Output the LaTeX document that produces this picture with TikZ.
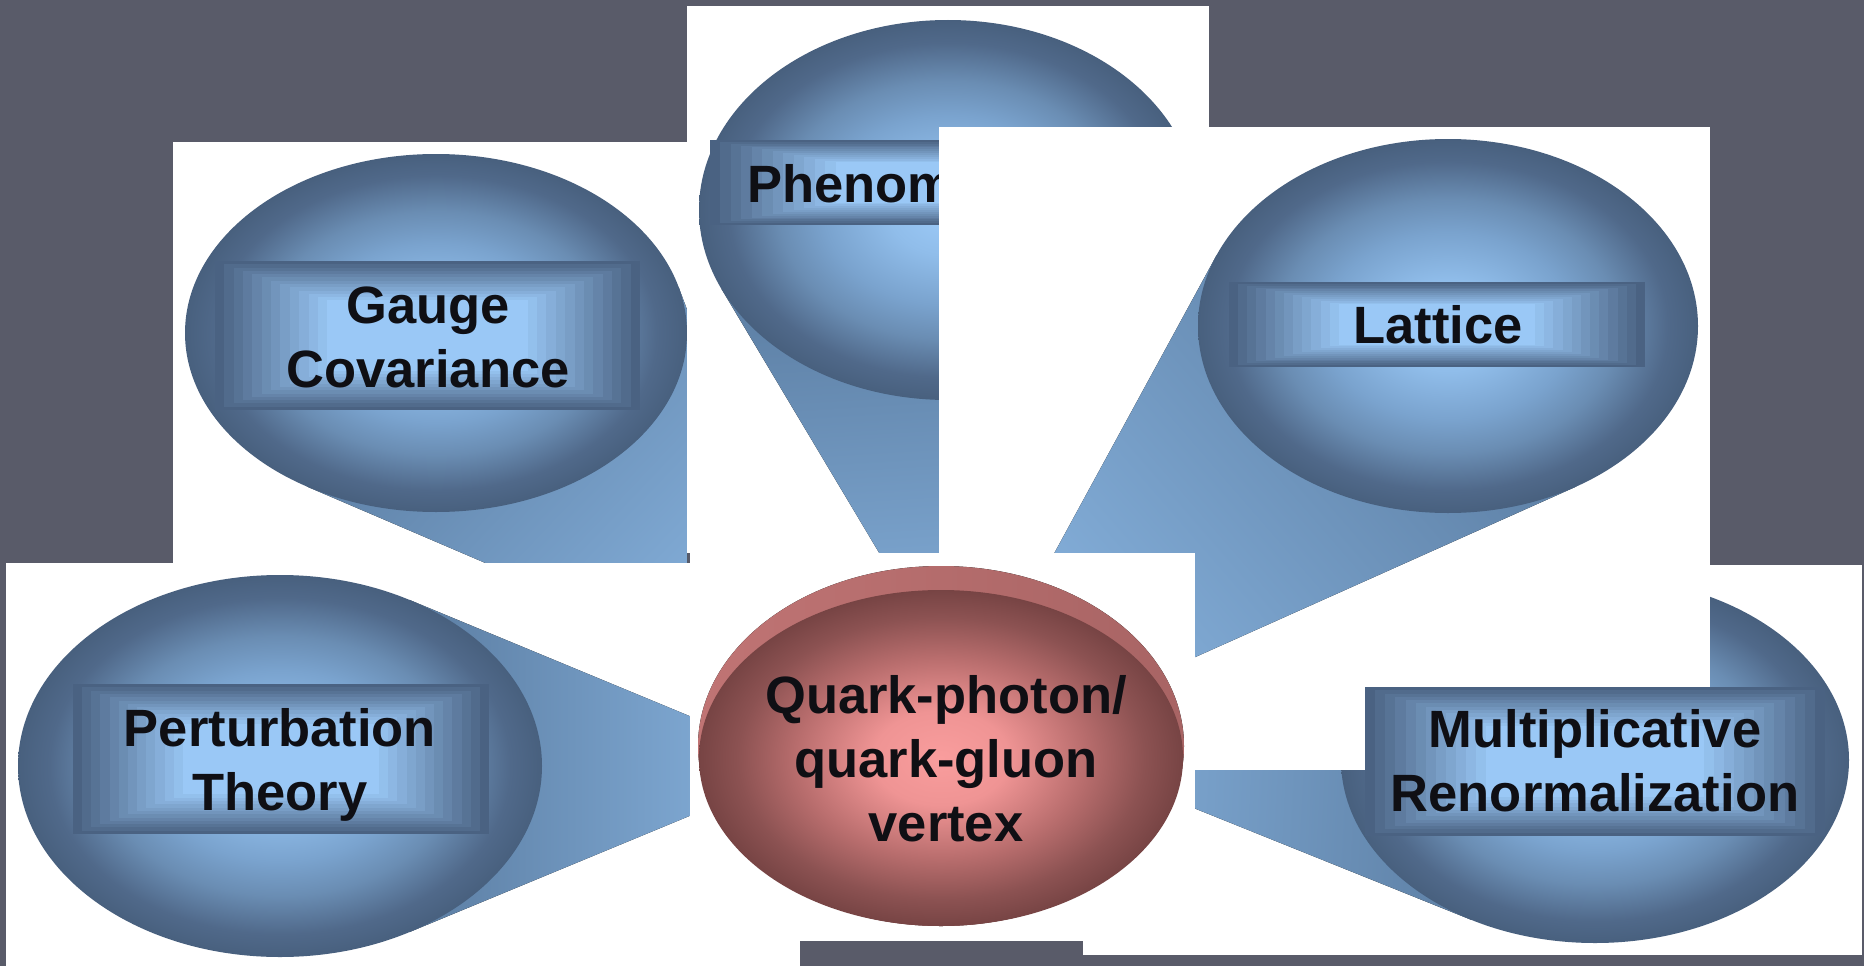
\documentclass[tikz,border=0pt]{standalone}
\usepackage{fontspec}
\setmainfont{Liberation Sans}
\usetikzlibrary{calc,shapes.geometric}

\definecolor{slidegrey}{HTML}{595B69}
\definecolor{ballhi}{HTML}{9DCBF9}
\definecolor{ballup}{HTML}{90BDEA}
\definecolor{ballmid}{HTML}{7AA3CE}
\definecolor{balllo}{HTML}{6A8DB3}
\definecolor{balldeep}{HTML}{50698A}
\definecolor{balledge}{HTML}{48607E}
\definecolor{panelhi}{HTML}{9AC8F6}
\definecolor{paneledge}{HTML}{4A6282}
\definecolor{conehi}{HTML}{8AB6E2}
\definecolor{conelo}{HTML}{5B7DA2}
\definecolor{rosehi}{HTML}{F99D9D}
\definecolor{roseup}{HTML}{EF9494}
\definecolor{rosemid}{HTML}{B86D6D}
\definecolor{roselo}{HTML}{8C5252}
\definecolor{roseedge}{HTML}{774444}
\definecolor{rimhi}{HTML}{C07474}
\definecolor{rimlo}{HTML}{A86464}
\definecolor{inkblack}{HTML}{0F0F14}

\pgfdeclareradialshading{blueball}{\pgfpoint{0bp}{0bp}}{%
  color(0bp)=(ballhi); color(6bp)=(ballup); color(12.5bp)=(ballmid);
  color(17bp)=(balllo); color(22bp)=(balldeep); color(25bp)=(balledge);
  color(50bp)=(balledge)}
\pgfdeclareradialshading{roseball}{\pgfpoint{0bp}{0bp}}{%
  color(0bp)=(rosehi); color(7bp)=(roseup); color(15bp)=(rosemid);
  color(21bp)=(roselo); color(25bp)=(roseedge); color(50bp)=(roseedge)}

% tip and the two tangent points of an ellipse seen from that tip
\newcommand{\tangentpair}[7]{%
  \pgfmathsetmacro\dxn{(#6-#2)/#4}
  \pgfmathsetmacro\dyn{(#7-#3)/#5}
  \pgfmathsetmacro\tdir{atan2(\dyn,\dxn)}
  \pgfmathsetmacro\tgap{acos(1/sqrt(\dxn*\dxn+\dyn*\dyn))}
  \pgfmathsetmacro\tangA{\tdir+\tgap}
  \pgfmathsetmacro\tangB{\tdir-\tgap}
  \coordinate (#1 tip) at (#6,#7);
  \coordinate (#1 t1) at ($(#2,#3)+(\tangA:#4 and #5)$);
  \coordinate (#1 t2) at ($(#2,#3)+(\tangB:#4 and #5)$);
}

\begin{document}
\begin{tikzpicture}[x=1pt, y=-1pt,
  sheet/.style={fill=white},
  ball/.style={ellipse, inner sep=0pt, shading=blueball},
  cone/.style={top color=conehi, bottom color=conelo, shading angle=#1},
  title/.style={font=\fontsize{52.5}{64}\selectfont\bfseries, align=center,
    inner sep=0pt, text=inkblack},
  pics/panel/.style 2 args={code={
    \foreach \i in {0,...,12} {
      \pgfmathsetmacro\mixpct{100*\i/12}
      \fill[panelhi!\mixpct!paneledge]
        ({-#1/2+0.022*#1*\i},{-#2/2+0.022*#2*\i}) rectangle
        ({#1/2-0.022*#1*\i},{#2/2-0.022*#2*\i});
    }}}]
  \useasboundingbox (0,0) rectangle (1864,966);
  \fill[slidegrey] (0,0) rectangle (1864,966);

  % gauge covariance
  \begin{scope}
    \clip (173,142) rectangle (687,563);
    \fill[sheet] (173,142) rectangle (687,563);
    \tangentpair{gauge}{436}{333}{251}{179}{838}{714}
    \fill[cone=-133.5] (gauge tip) -- (gauge t1) -- (gauge t2) -- cycle;
    \node[ball, minimum width=502pt, minimum height=358pt] (gauge) at (436,333) {};
    \pic at (427.5,335.5) {panel={425}{149}};
    \node[title] (gauge text) at (428,342.2) {\strut Gauge\\\strut Covariance};
  \end{scope}

  % phenomenology
  \begin{scope}
    \clip (687,6) rectangle (1209,553);
    \fill[sheet] (687,6) rectangle (1209,553);
    \tangentpair{pheno}{948}{210}{249}{190}{979}{720}
    \fill[cone=-176.5] (pheno tip) -- (pheno t1) -- (pheno t2) -- cycle;
    \node[ball, minimum width=498pt, minimum height=380pt] (pheno) at (948,210) {};
    \pic at (948,182.5) {panel={476}{85}};
    \node[title, anchor=west] (pheno text) at (747,189.2) {\strut Phenom};
  \end{scope}

  % multiplicative renormalization, lower layer
  \begin{scope}
    \clip (1083,565) rectangle (1862,955);
    \fill[sheet] (1083,565) rectangle (1862,955);
    \tangentpair{renorm}{1595}{760}{254}{183}{1000}{730}
    \fill[cone=87] (renorm tip) -- (renorm t1) -- (renorm t2) -- cycle;
    \node[ball, minimum width=508pt, minimum height=366pt] (renorm) at (1595,760) {};
  \end{scope}

  % lattice
  \begin{scope}
    \clip (939,127) rectangle (1710,770);
    \fill[sheet] (939,127) rectangle (1710,770);
    \tangentpair{lattice}{1448}{326}{250}{187}{934}{774}
    \fill[cone=131] (lattice tip) -- (lattice t1) -- (lattice t2) -- cycle;
    \node[ball, minimum width=500pt, minimum height=374pt] (lattice) at (1448,326) {};
    \pic at (1437,324.5) {panel={416}{85}};
    \node[title] (lattice text) at (1438,330.2) {\strut Lattice};
  \end{scope}

  % perturbation theory
  \begin{scope}
    \clip (6,563) rectangle (800,966);
    \fill[sheet] (6,563) rectangle (800,966);
    \tangentpair{pert}{280}{766}{262}{191}{810}{766}
    \fill[cone=-90] (pert tip) -- (pert t1) -- (pert t2) -- cycle;
    \node[ball, minimum width=524pt, minimum height=382pt] (pert) at (280,766) {};
    \pic at (281,759) {panel={416}{150}};
    \node[title] (pert text) at (280,765.2) {\strut Perturbation\\\strut Theory};
  \end{scope}

  % centre vertex
  \fill[sheet] (690,553) rectangle (1195,941);
  \fill[left color=rimhi, right color=rimlo] (941,746) ellipse [x radius=243, y radius=180];
  \node[ellipse, inner sep=0pt, minimum width=484pt, minimum height=336pt,
    shading=roseball] (vertex) at (941,758) {};
  \node[title] (vertex text) at (946,764.2)
    {\strut Quark-photon/\\\strut quark-gluon\\\strut vertex};

  % renormalization panel sits on top
  \pic at (1595,761.5) {panel={460}{149}};
  \node[title] (renorm text) at (1595,766.7)
    {\strut Multiplicative\\\strut Renormalization};
\end{tikzpicture}
\end{document}
